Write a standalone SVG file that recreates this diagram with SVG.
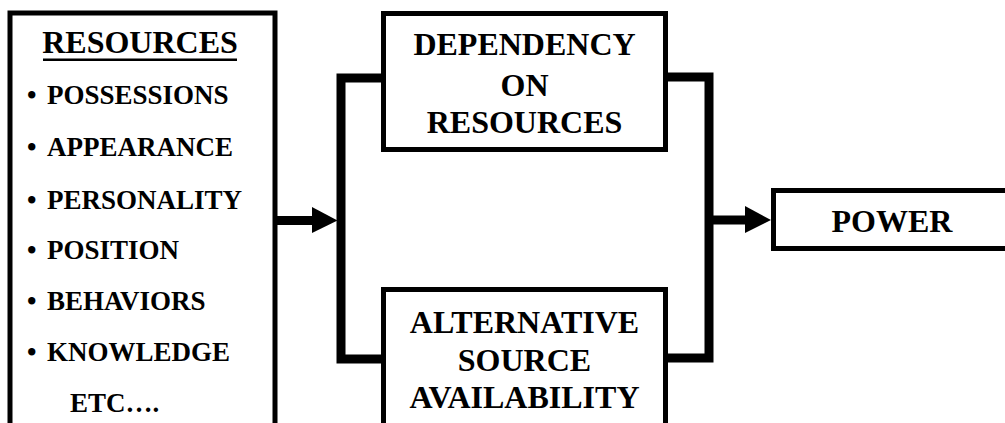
<svg xmlns="http://www.w3.org/2000/svg" width="1005" height="423" viewBox="0 0 1005 423">
  <style>
    .box { fill: #fff; stroke: #000; stroke-width: 5; }
    .wire { fill: none; stroke: #000; stroke-width: 9; stroke-linejoin: miter; stroke-linecap: butt; }
    .head { fill: #000; }
    .title { font-family: "Liberation Serif", "Times New Roman", serif; font-weight: bold; font-size: 32px; fill: #000; text-anchor: middle; }
    .item { font-family: "Liberation Serif", "Times New Roman", serif; font-weight: bold; font-size: 27px; fill: #000; }
  </style>

  <rect width="1005" height="423" fill="#fff"/>

  <!-- connectors -->
  <g id="connectors">
    <!-- resources feed the split bracket -->
    <path class="wire" d="M277,220.5 H314"/>
    <polygon class="head" points="312,207 337.5,220.5 312,233"/>
    <!-- left bracket into both factor boxes -->
    <path class="wire" d="M382,78 H341 V359 H382"/>
    <!-- right bracket gathering both factor boxes -->
    <path class="wire" d="M667,77 H709 V358 H667"/>
    <!-- to power -->
    <path class="wire" d="M713,220 H747"/>
    <polygon class="head" points="745,206 771,220 745,233"/>
  </g>

  <!-- resources list -->
  <g id="resources">
    <rect class="box" x="10" y="13" width="265" height="440"/>
    <text class="title" x="140" y="53">RESOURCES</text>
    <rect x="43" y="58.5" width="194" height="2.5" fill="#000"/>
    <text class="item" x="27" y="103.5">•<tspan x="47">POSSESSIONS</tspan></text>
    <text class="item" x="27" y="156">•<tspan x="47">APPEARANCE</tspan></text>
    <text class="item" x="27" y="208.5">•<tspan x="47">PERSONALITY</tspan></text>
    <text class="item" x="27" y="259">•<tspan x="47">POSITION</tspan></text>
    <text class="item" x="27" y="310">•<tspan x="47">BEHAVIORS</tspan></text>
    <text class="item" x="27" y="361">•<tspan x="47">KNOWLEDGE</tspan></text>
    <text class="item" x="70" y="411.5">ETC….</text>
  </g>

  <!-- dependency on resources -->
  <g id="dependency">
    <rect class="box" x="383.5" y="13.5" width="282" height="136"/>
    <text class="title" x="524.5" y="55">DEPENDENCY</text>
    <text class="title" x="524.5" y="96">ON</text>
    <text class="title" x="524.5" y="133">RESOURCES</text>
  </g>

  <!-- alternative source availability -->
  <g id="alternatives">
    <rect class="box" x="383.5" y="289.5" width="282" height="160"/>
    <text class="title" x="524.5" y="333">ALTERNATIVE</text>
    <text class="title" x="524.5" y="371">SOURCE</text>
    <text class="title" x="524.5" y="408">AVAILABILITY</text>
  </g>

  <!-- power -->
  <g id="power">
    <rect class="box" x="773.5" y="190.5" width="260" height="58"/>
    <text class="title" x="892" y="232">POWER</text>
  </g>
</svg>
